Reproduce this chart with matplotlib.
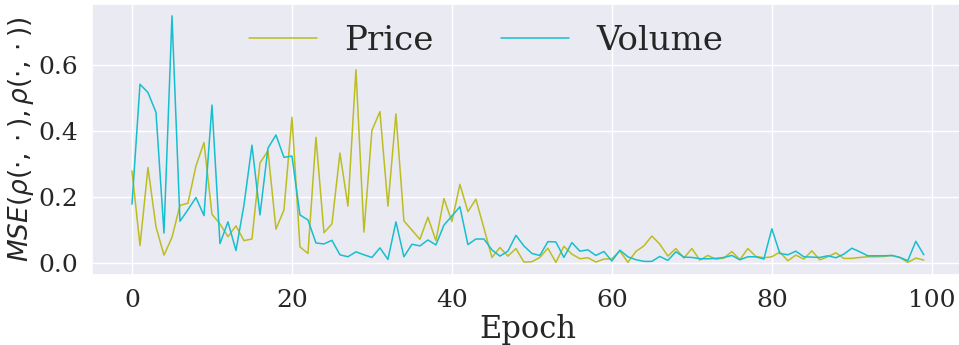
import matplotlib
matplotlib.use("Agg")
import matplotlib.pyplot as plt
import seaborn as sns
import numpy as np

epochs = np.arange(100)

price = [
    0.279, 0.052, 0.289, 0.109, 0.023, 0.077, 0.174, 0.181, 0.294, 0.365,
    0.147, 0.118, 0.079, 0.112, 0.067, 0.072, 0.303, 0.340, 0.102, 0.160,
    0.442, 0.048, 0.028, 0.381, 0.091, 0.118, 0.333, 0.172, 0.586, 0.093,
    0.402, 0.459, 0.172, 0.452, 0.127, 0.099, 0.071, 0.138, 0.067, 0.195,
    0.125, 0.238, 0.155, 0.193, 0.105, 0.016, 0.046, 0.020, 0.043, 0.002,
    0.003, 0.016, 0.044, 0.001, 0.050, 0.026, 0.012, 0.015, 0.002, 0.011,
    0.012, 0.036, 0.001, 0.034, 0.051, 0.081, 0.056, 0.020, 0.043, 0.014,
    0.043, 0.008, 0.022, 0.011, 0.014, 0.034, 0.009, 0.043, 0.019, 0.015,
    0.018, 0.032, 0.006, 0.023, 0.011, 0.036, 0.009, 0.018, 0.030, 0.013,
    0.013, 0.016, 0.018, 0.018, 0.019, 0.022, 0.016, 0.001, 0.014, 0.008,
]

volume = [
    0.178, 0.542, 0.517, 0.457, 0.090, 0.750, 0.126, 0.161, 0.198, 0.143,
    0.479, 0.058, 0.124, 0.037, 0.175, 0.357, 0.145, 0.348, 0.388, 0.320,
    0.324, 0.145, 0.130, 0.060, 0.057, 0.068, 0.024, 0.018, 0.033, 0.024,
    0.016, 0.045, 0.010, 0.124, 0.018, 0.056, 0.051, 0.069, 0.054, 0.114,
    0.142, 0.170, 0.055, 0.072, 0.072, 0.039, 0.020, 0.035, 0.083, 0.051,
    0.028, 0.022, 0.064, 0.063, 0.016, 0.061, 0.035, 0.039, 0.022, 0.034,
    0.005, 0.038, 0.018, 0.009, 0.004, 0.004, 0.019, 0.007, 0.033, 0.017,
    0.016, 0.012, 0.012, 0.013, 0.016, 0.022, 0.009, 0.018, 0.018, 0.011,
    0.103, 0.028, 0.024, 0.035, 0.018, 0.017, 0.016, 0.021, 0.015, 0.026,
    0.044, 0.033, 0.021, 0.021, 0.021, 0.022, 0.016, 0.006, 0.065, 0.024,
]

series_names = ["Price", "Volume"]
series_colors = ["#bcbd22", "#17becf"]

sns.set_theme(style="darkgrid")
plt.rcParams["font.family"] = ["DejaVu Serif"]

fig = plt.figure(figsize=(9.59, 3.45), dpi=100)
ax = fig.add_axes([92.4 / 959, 0.2038, 871.0 / 959, 0.786])

for name, values, color in zip(series_names, [price, volume], series_colors):
    ax.plot(epochs, values, color=color, lw=1.1, label=name)

ax.set_xticks([0, 20, 40, 60, 80, 100])
ax.set_yticks([0.0, 0.2, 0.4, 0.6])
ax.tick_params(axis="both", labelsize=18, pad=4)
ax.set_xlabel("Epoch", fontsize=22, labelpad=2)
ax.set_ylabel(r"$MSE(\rho(\cdot,\cdot),\rho(\cdot,\cdot))$", fontsize=19, labelpad=2)

ax.legend(loc="upper center", ncol=2, fontsize=24.5, frameon=False,
          bbox_to_anchor=(0.452, 1.035))

fig.savefig("out.png", dpi=100)
